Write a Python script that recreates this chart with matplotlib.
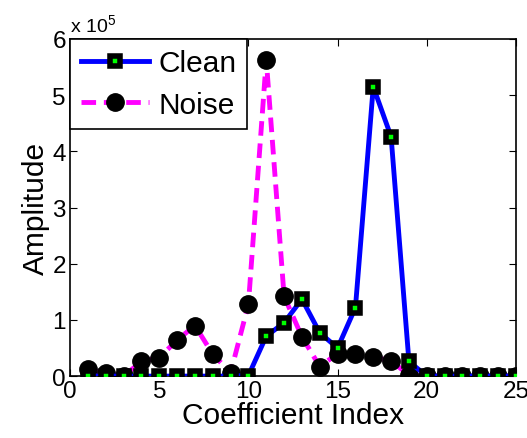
import matplotlib
matplotlib.use("Agg")
from matplotlib import pyplot as plt
from matplotlib.ticker import FuncFormatter

plt.rcParams['font.family'] = ['Liberation Sans', 'DejaVu Sans']
plt.rcParams['mathtext.default'] = 'regular'

# coefficient index and amplitudes (in units of 1e5)
index = list(range(1, 26))
clean = [0, 0, 0, 0, 0, 0, 0, 0, 0, 0.01, 0.71, 0.95, 1.37, 0.77, 0.50, 1.22,
         5.15, 4.26, 0.26, 0, 0, 0, 0, 0, 0]
noise = [0.12, 0.05, 0, 0.26, 0.33, 0.64, 0.90, 0.39, 0.06, 1.28, 5.63, 1.42,
         0.70, 0.17, 0.40, 0.40, 0.34, 0.27, 0.02, 0, 0, 0, 0, 0, 0]
scale = 1e5

fig = plt.figure(figsize=(5.27, 4.39), dpi=100)
ax = fig.add_axes([0.133, 0.141, 0.846, 0.768])

ax.plot(index, [v * scale for v in clean], color='blue', lw=3.5,
        marker='s', ms=7, mew=4, mfc='#00ff00', mec='black', label='Clean', zorder=3)
ax.plot(index, [v * scale for v in noise], color='magenta', lw=3.5, ls=(0, (3, 1.6)),
        marker='o', ms=12.5, mfc='black', mec='black', label='Noise', zorder=2)

ax.set_xlim(0, 25)
ax.set_ylim(0, 6 * scale)
ax.set_xticks([0, 5, 10, 15, 20, 25])
ax.set_yticks([i * scale for i in range(7)])
ax.yaxis.set_major_formatter(FuncFormatter(lambda v, p: f'{v / scale:g}'))
ax.tick_params(direction='in', top=True, right=True, labelsize=17.5, length=5, pad=3)
for s in ax.spines.values():
    s.set_linewidth(1.2)

ax.text(0.0, 1.01, r'x 10$^{5}$', transform=ax.transAxes, fontsize=14,
        ha='left', va='bottom')

ax.set_xlabel('Coefficient Index', fontsize=21.5, labelpad=-1)
ax.set_ylabel('Amplitude', fontsize=21.5, labelpad=2)

leg = ax.legend(loc='upper left', fontsize=21.5, handlelength=2.3, borderaxespad=0,
                fancybox=False, framealpha=1, edgecolor='black', borderpad=0.35,
                labelspacing=0.45, handletextpad=0.3)
leg.get_frame().set_linewidth(1.2)

fig.savefig('out.png', dpi=100)
